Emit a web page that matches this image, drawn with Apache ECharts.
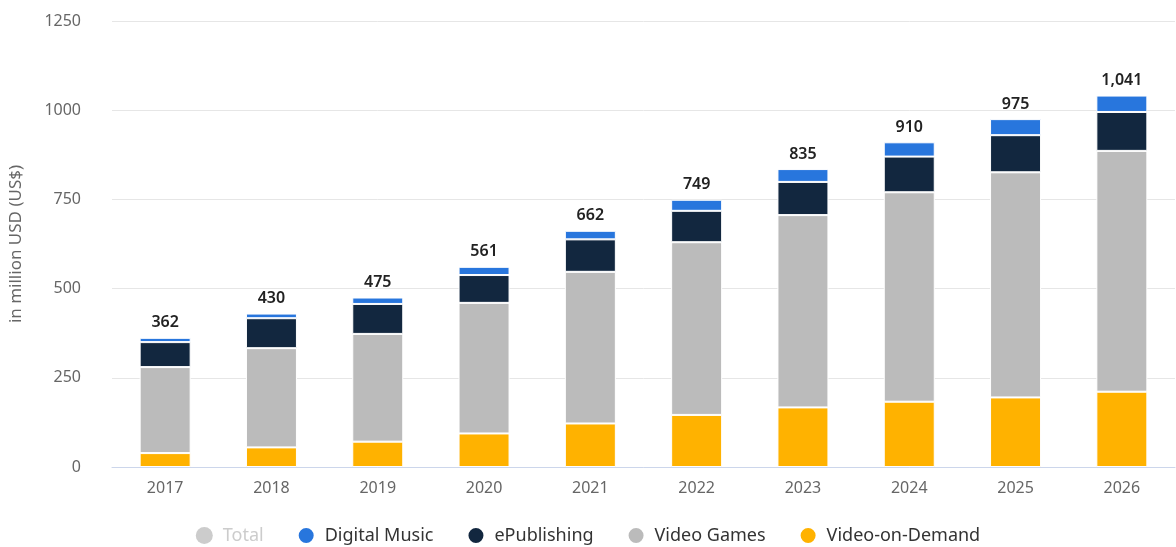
<!DOCTYPE html>
<html>
<head>
<meta charset="utf-8">
<script src="https://cdn.jsdelivr.net/npm/echarts@6/dist/echarts.min.js"></script>
<style>
  html, body { margin: 0; padding: 0; background: #fff; }
  #chart { width: 1176px; height: 547px; }
</style>
</head>
<body>
<div id="chart"></div>
<script>
const years = ['2017', '2018', '2019', '2020', '2021', '2022', '2023', '2024', '2025', '2026']
const totals = [362, 430, 475, 561, 662, 749, 835, 910, 975, 1041]
const videoOnDemand = [39, 55, 71, 94, 122, 146, 167, 183, 195, 211]
const videoGames = [241, 278, 302, 366, 425, 484, 539, 587, 631, 675]
const ePublishing = [70, 84, 84, 78, 91, 88, 93, 100, 104, 109]
const digitalMusic = [12, 13, 18, 23, 24, 31, 36, 40, 45, 46]
const yTicks = [0, 250, 500, 750, 1000, 1250]

const font = 'Noto Sans'
let myChart = echarts.init(document.getElementById('chart'))

function part(name, data, color, withLabel) {
  return {
    name: name,
    type: 'bar',
    stack: 'all',
    data: data,
    barWidth: 51,
    itemStyle: { color: color, borderColor: '#fff', borderWidth: 1 },
    label: withLabel ? {
      show: true,
      position: 'top',
      distance: 7,
      color: '#222',
      fontFamily: font,
      fontSize: 16,
      fontWeight: 600,
      formatter: p => totals[p.dataIndex].toLocaleString('en-US')
    } : { show: false }
  }
}

myChart.setOption({
  animation: false,
  grid: { left: 112, right: 1, top: 21, bottom: 80 },
  legend: {
    top: 521,
    left: 'center',
    icon: 'circle',
    itemWidth: 17,
    itemHeight: 17,
    itemGap: 33,
    inactiveColor: '#ccc',
    textStyle: { color: '#333', fontSize: 18, fontFamily: font, padding: [0, 0, 0, 5] },
    data: ['Total', 'Digital Music', 'ePublishing', 'Video Games', 'Video-on-Demand'],
    selected: { 'Total': false }
  },
  xAxis: {
    type: 'category',
    data: years,
    axisLine: { lineStyle: { color: '#ccd6eb' } },
    axisTick: { alignWithLabel: true, length: 8, lineStyle: { color: '#ccd6eb' } },
    axisLabel: { color: '#666', fontSize: 16, fontFamily: font, margin: 13 }
  },
  yAxis: {
    type: 'value',
    min: yTicks[0],
    max: yTicks[yTicks.length - 1],
    interval: yTicks[1] - yTicks[0],
    name: 'in million USD (US$)',
    nameLocation: 'middle',
    nameGap: 87,
    nameTextStyle: { color: '#666', fontSize: 17, fontFamily: font },
    axisLine: { show: false },
    axisTick: { show: false },
    axisLabel: { color: '#666', fontSize: 16, fontFamily: font, margin: 31, formatter: v => String(v) },
    splitLine: { lineStyle: { color: '#e6e6e6' } }
  },
  series: [
    {
      name: 'Total',
      type: 'bar',
      data: totals,
      itemStyle: { color: '#ccc' }
    },
    part('Video-on-Demand', videoOnDemand, '#ffb200', false),
    part('Video Games', videoGames, '#bbbbbb', false),
    part('ePublishing', ePublishing, '#12273f', false),
    part('Digital Music', digitalMusic, '#2876dd', true)
  ]
})
</script>
</body>
</html>
